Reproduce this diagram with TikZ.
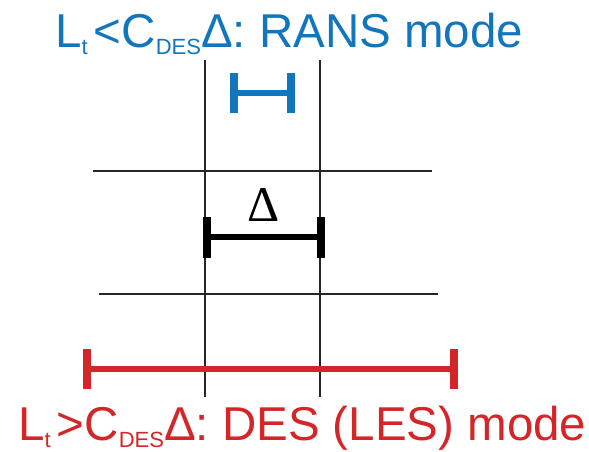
\documentclass[tikz,border=0pt]{standalone}
\usepackage{fontspec}
\setmainfont{Liberation Sans}
\newfontfamily\deltafont{Liberation Serif}
\definecolor{ransblue}{RGB}{18,118,188}
\definecolor{desred}{RGB}{212,38,40}
\newcommand{\lowsub}[1]{\raisebox{-7.5pt}{\fontsize{22}{22}\selectfont #1}}
\tikzset{
  gridline/.style={line width=1.4pt, black!85},
  bar/.style={line width=6.5pt, line cap=butt},
  barcap/.style={line width=8pt, line cap=butt},
  modelabel/.style={inner sep=0pt, anchor=base west, font=\fontsize{47.5}{50}\selectfont}
}
\begin{document}
\begin{tikzpicture}[x=1pt, y=-1pt]
\useasboundingbox (0,0) rectangle (589,451);
% grid
\draw[gridline] (205,60) -- (205,397);
\draw[gridline] (320,60) -- (320,397);
\draw[gridline] (93,171) -- (432,171);
\draw[gridline] (99,294) -- (438,294);
% cell size
\coordinate (dl) at (207,237);
\coordinate (dr) at (321,237);
\draw[bar] (dl) -- (dr);
\draw[barcap] ([yshift=-20.5pt]dl) -- ([yshift=20.5pt]dl);
\draw[barcap] ([yshift=-20.5pt]dr) -- ([yshift=20.5pt]dr);
\node[inner sep=0pt, font=\deltafont\fontsize{50}{50}\selectfont] (delta) at (264,205) {Δ};
% RANS length
\coordinate (rl) at (234,93);
\coordinate (rr) at (291,93);
\draw[bar, ransblue] (rl) -- (rr);
\draw[barcap, ransblue] ([yshift=-20pt]rl) -- ([yshift=20pt]rl);
\draw[barcap, ransblue] ([yshift=-20pt]rr) -- ([yshift=20pt]rr);
\node[modelabel, text=ransblue] (rans) at (55,47) {L\lowsub{t}\hspace{6pt}<C\lowsub{DES}Δ: RANS mode};
% DES length
\coordinate (ll) at (87,369);
\coordinate (lr) at (454,369);
\draw[bar, desred] (ll) -- (lr);
\draw[barcap, desred] ([yshift=-20pt]ll) -- ([yshift=20pt]ll);
\draw[barcap, desred] ([yshift=-20pt]lr) -- ([yshift=20pt]lr);
\node[modelabel, text=desred] (des) at (18,440) {L\lowsub{t}\hspace{6pt}>C\lowsub{DES}Δ: DES (LES) mode};
\end{tikzpicture}
\end{document}
